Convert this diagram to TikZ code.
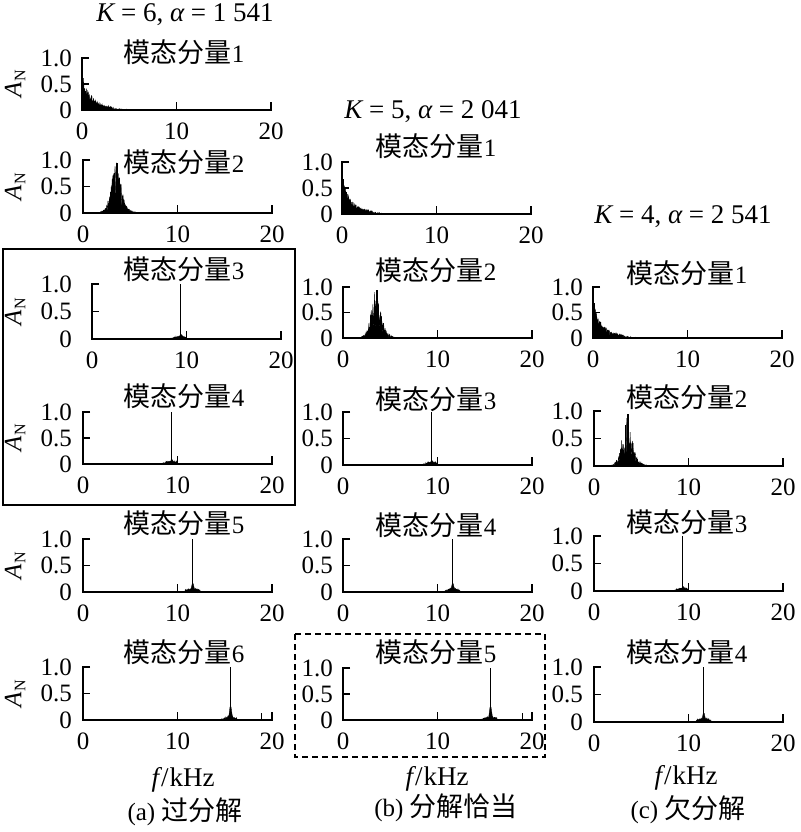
\documentclass[tikz,border=0pt]{standalone}
\usepackage{fontspec}
\setmainfont{Liberation Serif}
\newfontfamily\cjk[Scale=1.08]{Noto Sans CJK SC}
\newcommand\lfont{\fontsize{25}{28}\selectfont}
\newcommand\bfontx{\fontsize{27}{30}\selectfont}
\tikzset{
  axisline/.style={line width=1.5pt, line join=miter},
  spec/.style={fill=black, draw=black, line width=0.35pt},
  spike/.style={draw=black, line width=1.1pt},
  ticklbl/.style={font=\lfont, inner sep=0pt},
  titlelbl/.style={font=\lfont, inner sep=0pt},
  biglbl/.style={font=\bfontx, inner sep=0pt},
  boxline/.style={line width=1.4pt},
  dashbox/.style={line width=1.8pt, dash pattern=on 6pt off 4pt},
}
% low-frequency spectrum (mode 1)
\newcommand\specL{%
  \filldraw[spec] (0,0) -- plot[domain=0.02:3.2,samples=200] (\x,{(0.72*exp(-\x/0.9)+0.04)*(0.4+0.6*rnd)}) -- (3.2,0) -- cycle;
  \filldraw[spec] (3.2,0) -- plot[domain=3.2:6.5,samples=90] (\x,{0.05*exp(-(\x-3.2)/1.2)*rnd}) -- (6.5,0) -- cycle;
  \draw[spike] (0.1,0) -- (0.1,0.68);
}
% mode around 3.5 kHz
\newcommand\specM{%
  \filldraw[spec] (1.8,0) -- plot[domain=1.8:8,samples=200] (\x,{(0.85*exp(-(\x-3.5)*(\x-3.5)/0.45)+0.12*exp(-(\x-3.7)*(\x-3.7)/2.0))*(0.15+0.85*rnd)}) -- (8,0) -- cycle;
  \draw[spike] (3.6,0) -- (3.6,0.94);
  \draw[spike] (3.3,0) -- (3.3,0.75);
}
% narrow spike: #1 centre, #2 lo, #3 hi, #4 shoulder height, #5 base amplitude
\newcommand\specS[5]{%
  \filldraw[spec] (#2,0) -- plot[domain=#2:#3,samples=160] (\x,{#5*exp(-(\x-#1)*(\x-#1)/0.7)*(0.2+0.8*rnd)}) -- (#3,0) -- cycle;
  \fill[spec] ({#1-0.22},0) -- ({#1-0.04},#4) -- ({#1+0.06},#4) -- ({#1+0.26},0) -- cycle;
  \draw[spike] (#1,0) -- (#1,1);
}
% #1 name, #2 x0, #3 ybot, #4 ytop, #5 label right x, #6 title x, #7 title y, #8 digit, #9 spectrum
\newcommand\mypanel[9]{%
  \begin{scope}
    \draw[axisline] ({#2+7},#4) -- (#2,#4) -- (#2,#3) -- ({#2+189},#3) -- ({#2+189},{#3-8});
    \draw[axisline] (#2,{(#3+#4)/2}) -- ({#2+7},{(#3+#4)/2});
    \draw[axisline] ({#2+94.5},#3) -- ({#2+94.5},{#3-8});
    \node[ticklbl, anchor=east] (#1-y1) at (#5,#4) {1.0};
    \node[ticklbl, anchor=east] (#1-y05) at (#5,{(#3+#4)/2}) {0.5};
    \node[ticklbl, anchor=east] (#1-y0) at (#5,#3) {0};
    \node[ticklbl] (#1-x0) at (#2,{#3+21}) {0};
    \node[ticklbl] (#1-x10) at ({#2+94.5},{#3+21}) {10};
    \node[ticklbl] (#1-x20) at ({#2+189},{#3+21}) {20};
    \node[titlelbl] (#1-t) at (#6,#7) {{\cjk 模态分量}#8};
    \begin{scope}[shift={(#2,#3)}, xscale=9.45, yscale={-(#3-#4)}]
      #9
    \end{scope}
  \end{scope}
}
\begin{document}
\begin{tikzpicture}[x=1pt,y=-1pt]
\useasboundingbox[fill=white] (0,0) rectangle (800,832);
% column (a)
\mypanel{a1}{82}{110}{58}{72}{184}{52}{1}{\pgfmathsetseed{11}\specL}
\mypanel{a2}{83}{213}{160}{72}{184}{162}{2}{\pgfmathsetseed{12}\specM}
\mypanel{a3}{92}{339}{284}{72}{184}{269}{3}{\pgfmathsetseed{13}\specS{9.4}{8.0}{10.0}{0.08}{0.06}}
\mypanel{a4}{83}{464}{412}{72}{184}{396}{4}{\pgfmathsetseed{14}\specS{9.4}{8.0}{10.0}{0.08}{0.06}}
\mypanel{a5}{83}{592}{539}{72}{184}{523}{5}{\pgfmathsetseed{15}\specS{11.6}{10.8}{12.4}{0.16}{0.07}}
\mypanel{a6}{83}{720}{667}{72}{184}{652}{6}{\pgfmathsetseed{16}\specS{15.6}{13.5}{16.3}{0.25}{0.07}\draw[spike] (18.9,0) -- (18.9,0.14);}
% column (b)
\mypanel{b1}{342}{214}{162}{333}{436}{146}{1}{\pgfmathsetseed{21}\specL}
\mypanel{b2}{343}{338}{287}{333}{436}{270}{2}{\pgfmathsetseed{22}\specM}
\mypanel{b3}{343}{465}{412}{333}{436}{399}{3}{\pgfmathsetseed{23}\specS{9.4}{8.0}{10.0}{0.08}{0.06}}
\mypanel{b4}{343}{592}{539}{333}{436}{525}{4}{\pgfmathsetseed{24}\specS{11.6}{10.8}{12.4}{0.16}{0.07}}
\mypanel{b5}{343}{720}{668}{333}{436}{652}{5}{\pgfmathsetseed{25}\specS{15.6}{13.5}{16.3}{0.25}{0.07}\draw[spike] (19.0,0) -- (19.0,0.14);}
% column (c)
\mypanel{c1}{593}{338}{287}{583}{687}{273}{1}{\pgfmathsetseed{31}\specL}
\mypanel{c2}{594}{466}{411}{583}{687}{397}{2}{\pgfmathsetseed{32}\specM}
\mypanel{c3}{594}{591}{536}{583}{687}{522}{3}{\pgfmathsetseed{33}\specS{9.4}{8.0}{10.0}{0.08}{0.06}}
\mypanel{c4}{594}{722}{667}{583}{687}{652}{4}{\pgfmathsetseed{34}\specS{11.6}{10.8}{12.4}{0.16}{0.07}}
% A_N labels
\foreach \yc [count=\i] in {84,186.5,311.5,438,565.5,693.5}
  \node[font=\lfont, rotate=90, inner sep=0pt] (an\i) at (15,\yc) {\itshape A\kern0.5pt\raisebox{-4pt}{\upshape\fontsize{16}{16}\selectfont N}};
% parameter labels
\node[biglbl] (ka) at (185,15) {\itshape K\upshape{} = 6, \itshape α\upshape{} = 1 541};
\node[biglbl] (kb) at (433,112) {\itshape K\upshape{} = 5, \itshape α\upshape{} = 2 041};
\node[biglbl] (kc) at (683,217) {\itshape K\upshape{} = 4, \itshape α\upshape{} = 2 541};
% boxes
\draw[boxline] (3,249) rectangle (295,505);
\draw[dashbox] (295,634) rectangle (545,757);
% axis titles and captions
\node[biglbl] (fa) at (183,780) {\itshape f\upshape\kern2pt/\kern1pt kHz};
\node[biglbl] (fb) at (437,779) {\itshape f\upshape\kern2pt/\kern1pt kHz};
\node[biglbl] (fc) at (686,778) {\itshape f\upshape\kern2pt/\kern1pt kHz};
\node[font=\lfont, inner sep=0pt] (capa) at (185,812) {(a) {\cjk 过分解}};
\node[font=\lfont, inner sep=0pt] (capb) at (446,808) {(b) {\cjk 分解恰当}};
\node[font=\lfont, inner sep=0pt] (capc) at (688,810) {(c) {\cjk 欠分解}};
\end{tikzpicture}
\end{document}
